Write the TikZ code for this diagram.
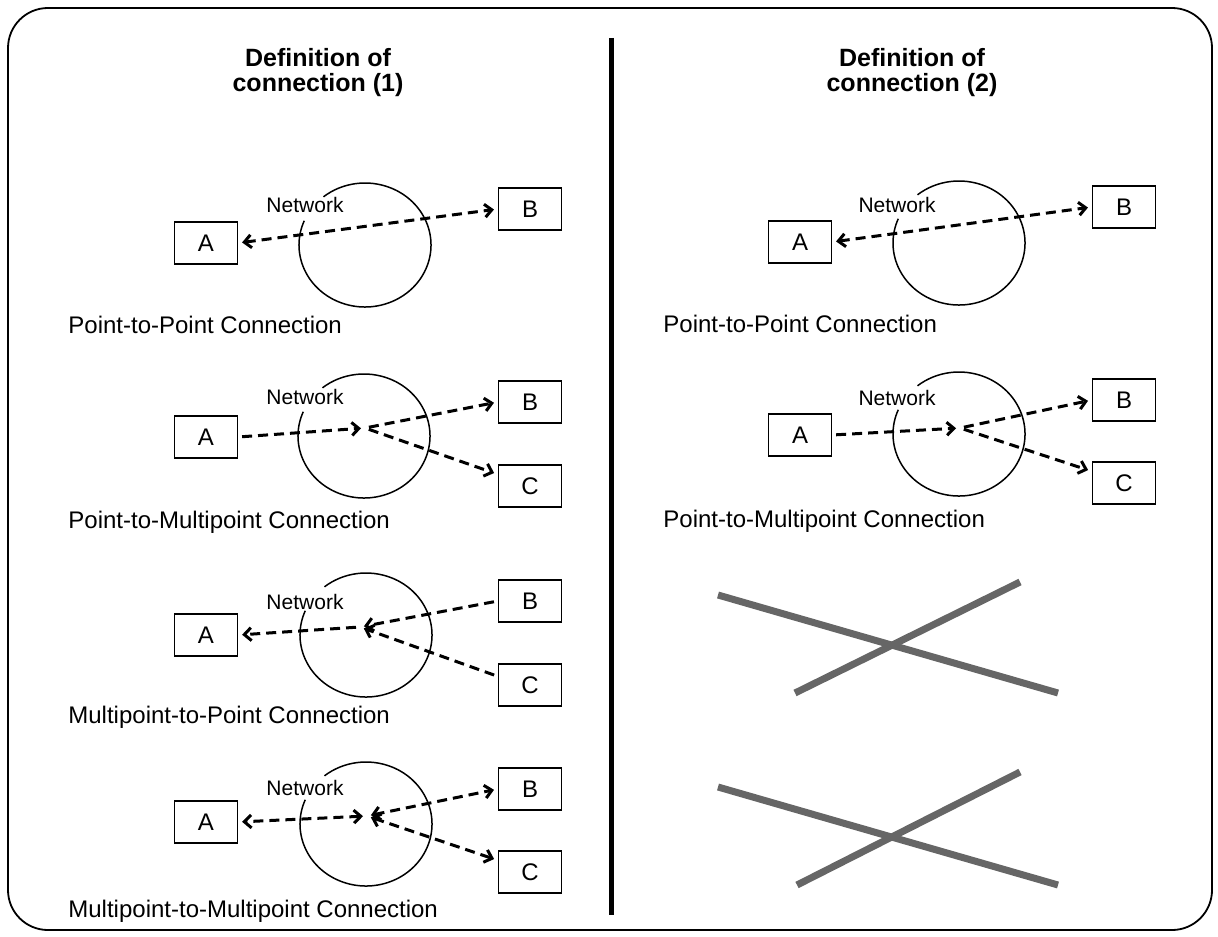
\documentclass[tikz,border=0pt]{standalone}
\usepackage{fontspec}
\setmainfont{Liberation Sans}
\usetikzlibrary{arrows.meta}

\begin{document}
\begin{tikzpicture}
    [x=0.5pt, y=-0.5pt, >={Straight Barb[length=3.5pt, width=6.5pt]},
     box/.style={draw, line width=0.6pt, minimum width=31.5pt, minimum height=21pt,
       inner sep=0pt, font=\fontsize{12}{14}\selectfont},
     net/.style={inner sep=0pt, font=\fontsize{10.5}{12}\selectfont},
     cloud/.style={line width=0.75pt},
     conn/.style={line width=1.5pt, dash pattern=on 5pt off 3pt,
       shorten <=2pt, shorten >=2pt},
     caption/.style={anchor=base west, inner sep=0pt, font=\fontsize{12}{14}\selectfont},
     heading/.style={align=center, inner sep=0pt, font=\bfseries\fontsize{12.5}{12.5}\selectfont},
     cross/.style={line width=3.5pt, black!60}]
    \useasboundingbox (0,0) rectangle (1218,936);
    \draw[line width=0.9pt, rounded corners=20pt] (8,8) rectangle (1212,930);
    \draw[line width=2.5pt] (611,38) -- (611,915);

    \node[heading] (title1) at (318,73) {Definition of\\connection (1)};
    \node[heading] (title2) at (912,73) {Definition of\\connection (2)};

    % point-to-point
    \node[box] (A1) at (206,243) {A};
    \node[box] (B1) at (530,209) {B};
    \coordinate (N1) at (365,245);
    \draw[cloud] ([shift={(-157:66 and 62)}]N1) arc[start angle=-157, end angle=-489, x radius=66, y radius=62];
    \node[net] (net1) at (305,205) {Network};
    \draw[conn, <->] (A1.east) -- (B1.west);
    \node[caption] (cap1) at (68,333) {Point-to-Point Connection};

    % point-to-multipoint
    \node[box] (A2) at (206,437) {A};
    \node[box] (B2) at (530,402) {B};
    \node[box] (C2) at (530,486) {C};
    \coordinate (N2) at (364,436);
    \coordinate (J2) at (365,428);
    \draw[cloud] ([shift={(-157:66 and 62)}]N2) arc[start angle=-157, end angle=-489, x radius=66, y radius=62];
    \node[net] (net2) at (305,397) {Network};
    \draw[conn, ->] (A2.east) -- (J2);
    \draw[conn, ->] (J2) -- (B2.west);
    \draw[conn, ->] (J2) -- (C2.160);
    \node[caption] (cap2) at (68,528) {Point-to-Multipoint Connection};

    % multipoint-to-point
    \node[box] (A3) at (206,635) {A};
    \node[box] (B3) at (530,601) {B};
    \node[box] (C3) at (530,685) {C};
    \coordinate (N3) at (366,635);
    \coordinate (J3) at (360,627);
    \draw[cloud] ([shift={(-157:66 and 62)}]N3) arc[start angle=-157, end angle=-489, x radius=66, y radius=62];
    \node[net] (net3) at (305,602) {Network};
    \draw[conn, ->] (B3.west) -- (J3);
    \draw[conn, ->] (C3.165) -- (J3);
    \draw[conn, ->] (J3) -- (A3.east);
    \node[caption] (cap3) at (68,723) {Multipoint-to-Point Connection};

    % multipoint-to-multipoint
    \node[box] (A4) at (206,822) {A};
    \node[box] (B4) at (530,789) {B};
    \node[box] (C4) at (530,872) {C};
    \coordinate (N4) at (366,824);
    \coordinate (J4) at (367,816);
    \draw[cloud] ([shift={(-157:66 and 62)}]N4) arc[start angle=-157, end angle=-489, x radius=66, y radius=62];
    \node[net] (net4) at (305,788) {Network};
    \draw[conn, <->] (J4) -- (A4.east);
    \draw[conn, <->] (J4) -- (B4.west);
    \draw[conn, <->] (J4) -- (C4.160);
    \node[caption] (cap4) at (68,917) {Multipoint-to-Multipoint Connection};

    % right side
    \node[box] (A5) at (800,242) {A};
    \node[box] (B5) at (1124,207) {B};
    \coordinate (N5) at (959,243);
    \draw[cloud] ([shift={(-157:66 and 62)}]N5) arc[start angle=-157, end angle=-489, x radius=66, y radius=62];
    \node[net] (net5) at (897,205) {Network};
    \draw[conn, <->] (A5.east) -- (B5.west);
    \node[caption] (cap5) at (663,332) {Point-to-Point Connection};

    \node[box] (A6) at (800,435) {A};
    \node[box] (B6) at (1124,400) {B};
    \node[box] (C6) at (1124,483) {C};
    \coordinate (N6) at (959,434);
    \coordinate (J6) at (960,428);
    \draw[cloud] ([shift={(-157:66 and 62)}]N6) arc[start angle=-157, end angle=-489, x radius=66, y radius=62];
    \node[net] (net6) at (897,398) {Network};
    \draw[conn, ->] (A6.east) -- (J6);
    \draw[conn, ->] (J6) -- (B6.west);
    \draw[conn, ->] (J6) -- (C6.160);
    \node[caption] (cap6) at (663,527) {Point-to-Multipoint Connection};

    % crossed out
    \draw[cross] (718,595) -- (1058,693);
    \draw[cross] (795,693) -- (1020,582);
    \draw[cross] (718,787) -- (1058,885);
    \draw[cross] (797,885) -- (1020,772);
\end{tikzpicture}
\end{document}
